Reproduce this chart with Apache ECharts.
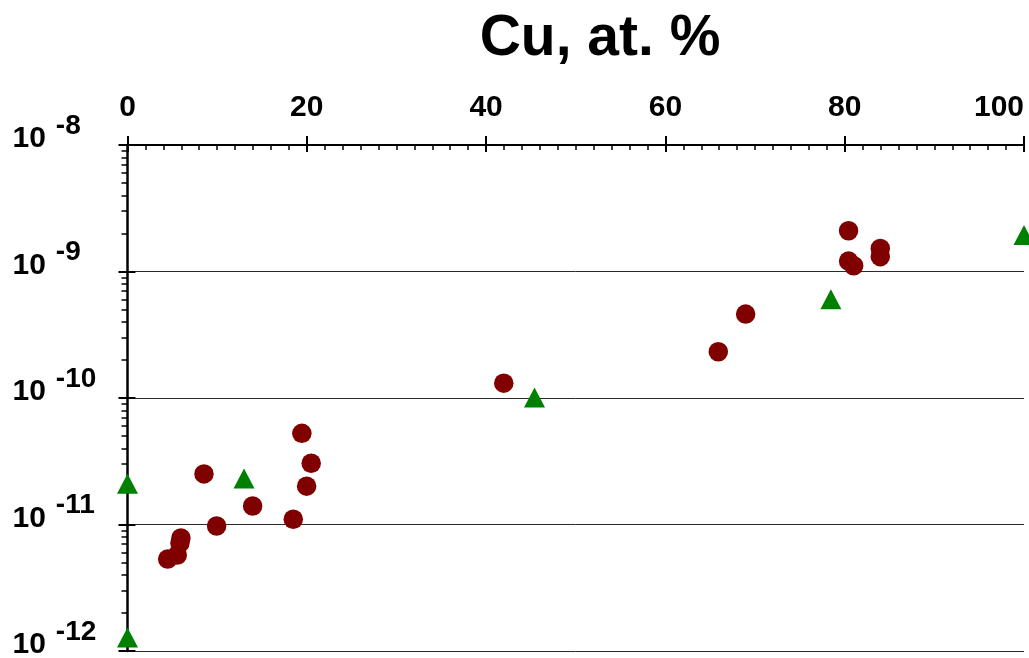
<!DOCTYPE html>
<html>
<head>
<meta charset="utf-8">
<script src="https://cdn.jsdelivr.net/npm/echarts@6/dist/echarts.min.js"></script>
<style>html,body{margin:0;padding:0;background:#fff;}#c{width:1029px;height:658px;}</style>
</head>
<body>
<div id="c"></div>
<script>
// Data (x: Cu, at. %; y: value on log scale)
const circleX = [4.48, 5.55, 5.85, 5.96, 9.94, 8.53, 13.96, 18.49, 19.45, 20.49, 19.98, 41.97, 65.9, 68.95, 80.43, 80.43, 81.0, 83.97, 83.97];
const circleY = [5.33e-12, 5.74e-12, 7.14e-12, 7.82e-12, 9.73e-12, 2.51e-11, 1.40e-11, 1.10e-11, 5.26e-11, 3.05e-11, 2.01e-11, 1.31e-10, 2.32e-10, 4.61e-10, 2.10e-9, 1.21e-9, 1.11e-9, 1.52e-9, 1.31e-9];
const triangleX = [0, 0, 13.0, 45.4, 78.46, 100];
const triangleY = [2.10e-11, 1.28e-12, 2.31e-11, 1.01e-10, 6.04e-10, 1.94e-9];
const xTicks = [0, 20, 40, 60, 80, 100];
const yDecades = [-12, -11, -10, -9, -8];
const titleText = 'Cu, at. %';

const yMinorTicks = [];
for (let i = 0; i < yDecades.length - 1; i++) {
  for (let k = 2; k <= 9; k++) yMinorTicks.push(k * Math.pow(10, yDecades[i]));
}
const circleData = circleX.map((x, i) => [x, circleY[i]]);
const triangleData = triangleX.map((x, i) => [x, triangleY[i]]);

const FONT = 'Liberation Sans, Arial, sans-serif';
const yMin = Math.pow(10, yDecades[0]);
const yMax = Math.pow(10, yDecades[yDecades.length - 1]);

const chart = echarts.init(document.getElementById('c'), null, {renderer: 'canvas'});
chart.setOption({
  animation: false,
  backgroundColor: '#fff',
  title: {
    text: titleText,
    left: 595, top: 6, textAlign: 'center',
    textStyle: {fontFamily: FONT, fontSize: 57, fontWeight: 'bold', color: '#000', lineHeight: 57}
  },
  grid: {left: 127.5, right: 5, top: 145, bottom: 7, containLabel: false, outerBoundsMode: 'none'},
  xAxis: [
    {
      type: 'value', position: 'top', min: xTicks[0], max: xTicks[xTicks.length - 1], interval: 20,
      axisLine: {show: true, lineStyle: {color: '#000', width: 2}},
      axisTick: {show: true, inside: true, length: 7, lineStyle: {color: '#000', width: 2}},
      minorTick: {show: true, splitNumber: 10, length: 5, lineStyle: {color: '#000', width: 1.5}},
      splitLine: {show: false},
      axisLabel: {
        show: true, margin: 22, color: '#000', fontFamily: FONT, fontSize: 30, fontWeight: 'bold', lineHeight: 30,
        alignMaxLabel: 'right'
      }
    },
    {
      type: 'value', position: 'top', min: xTicks[0], max: xTicks[xTicks.length - 1], interval: 20,
      axisLine: {show: false},
      axisTick: {show: true, inside: false, length: 9, lineStyle: {color: '#000', width: 2}},
      splitLine: {show: false},
      axisLabel: {show: false}
    }
  ],
  yAxis: [
    {
      type: 'log', logBase: 10, min: yMin, max: yMax, splitNumber: 4, position: 'left',
      axisLine: {show: true, lineStyle: {color: '#000', width: 2.5}},
      axisTick: {show: true, inside: false, length: 9, lineStyle: {color: '#000', width: 2}},
      splitLine: {show: true, lineStyle: {color: '#2a2a2a', width: 1}},
      axisLabel: {
        show: true, align: 'left', margin: 115,
        formatter: function (v) {
          const e = Math.round(Math.log10(v));
          return '{a|10}{b|' + e + '}';
        },
        rich: {
          a: {fontFamily: FONT, fontSize: 30, fontWeight: 'bold', color: '#000', lineHeight: 30, padding: [0, 10, 12, 0]},
          b: {fontFamily: FONT, fontSize: 28, fontWeight: 'bold', color: '#000', lineHeight: 28, padding: [0, 0, 38, 0]}
        }
      }
    },
    {
      type: 'log', logBase: 10, min: yMin, max: yMax, splitNumber: 4, position: 'left',
      axisLine: {show: false},
      axisTick: {show: true, inside: true, length: 8, lineStyle: {color: '#000', width: 2}},
      splitLine: {show: false},
      axisLabel: {show: false}
    },
    {
      type: 'log', logBase: 10, min: yMin, max: yMax, position: 'left',
      axisLine: {show: false},
      axisTick: {show: true, inside: false, length: 6, customValues: yMinorTicks, lineStyle: {color: '#000', width: 1.5}},
      splitLine: {show: false},
      axisLabel: {show: false}
    }
  ],
  series: [
    {
      type: 'scatter', xAxisIndex: 0, yAxisIndex: 0, data: circleData,
      symbol: 'circle', symbolSize: 19.5, itemStyle: {color: '#800000', opacity: 1}, z: 3
    },
    {
      type: 'scatter', xAxisIndex: 0, yAxisIndex: 0, data: triangleData,
      symbol: 'triangle', symbolSize: [21, 20], itemStyle: {color: '#008000', opacity: 1}, z: 3, clip: false
    }
  ]
});
</script>
</body>
</html>
